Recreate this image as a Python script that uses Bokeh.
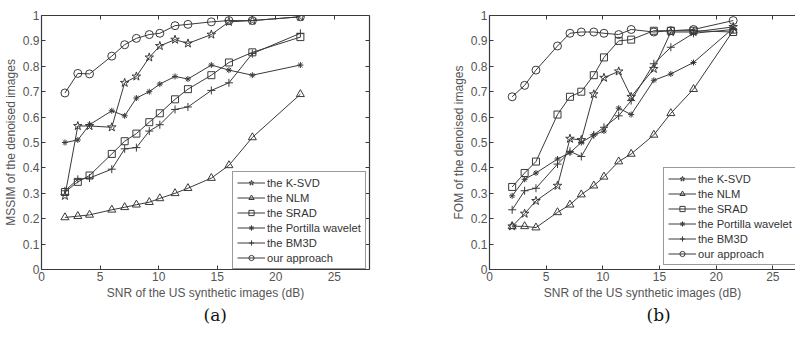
from bokeh.plotting import figure
from bokeh.layouts import row
from bokeh.models import (Range1d, FixedTicker, LinearAxis, Legend, LegendItem, Title,
                          CustomJSTickFormatter)
from bokeh.embed import file_html
from bokeh.resources import INLINE

# ---------------- data ----------------
snr_a = [2, 3.1, 4.1, 6, 7.1, 8.1, 9.2, 10.1, 11.4, 12.5, 14.5, 16, 18, 22.1]
snr_b = [2, 3.1, 4.1, 6, 7.1, 8.1, 9.2, 10.1, 11.4, 12.5, 14.5, 16, 18, 21.5]

names = ["the K-SVD", "the NLM", "the SRAD", "the Portilla wavelet", "the BM3D", "our approach"]

# (a) MSSIM
mssim_ksvd = [0.29, 0.565, 0.565, 0.56, 0.735, 0.76, 0.835, 0.88, 0.905, 0.89, 0.925, 0.975, 0.98, 0.995]
mssim_nlm = [0.205, 0.21, 0.215, 0.235, 0.245, 0.255, 0.265, 0.28, 0.30, 0.32, 0.36, 0.41, 0.52, 0.69]
mssim_srad = [0.305, 0.345, 0.37, 0.455, 0.505, 0.535, 0.58, 0.615, 0.67, 0.71, 0.765, 0.815, 0.855, 0.915]
mssim_portilla = [0.50, 0.51, 0.57, 0.625, 0.605, 0.675, 0.70, 0.73, 0.76, 0.75, 0.805, 0.785, 0.765, 0.805]
mssim_bm3d = [0.31, 0.355, 0.36, 0.395, 0.475, 0.48, 0.545, 0.57, 0.63, 0.64, 0.705, 0.735, 0.85, 0.93]
mssim_ours = [0.695, 0.772, 0.77, 0.84, 0.885, 0.91, 0.925, 0.93, 0.96, 0.965, 0.975, 0.98, 0.98, 0.995]

# (b) FOM
fom_ksvd = [0.17, 0.22, 0.27, 0.33, 0.515, 0.51, 0.69, 0.755, 0.78, 0.68, 0.79, 0.935, 0.935, 0.955]
fom_nlm = [0.17, 0.17, 0.165, 0.225, 0.255, 0.295, 0.33, 0.365, 0.425, 0.455, 0.53, 0.615, 0.71, 0.94]
fom_srad = [0.325, 0.38, 0.425, 0.61, 0.68, 0.70, 0.765, 0.835, 0.90, 0.905, 0.94, 0.94, 0.94, 0.935]
fom_portilla = [0.29, 0.355, 0.38, 0.435, 0.46, 0.50, 0.53, 0.545, 0.635, 0.61, 0.745, 0.77, 0.815, 0.95]
fom_bm3d = [0.235, 0.31, 0.32, 0.415, 0.465, 0.445, 0.53, 0.56, 0.605, 0.665, 0.81, 0.875, 0.93, 0.945]
fom_ours = [0.68, 0.725, 0.785, 0.88, 0.93, 0.935, 0.935, 0.93, 0.925, 0.945, 0.935, 0.94, 0.945, 0.98]

x_ticks = [0, 5, 10, 15, 20, 25]
y_ticks = [0, 0.1, 0.2, 0.3, 0.4, 0.5, 0.6, 0.7, 0.8, 0.9, 1]

markers = ["star", "triangle", "square", "asterisk", "cross", "circle"]
msizes = [9, 8, 7, 6, 8, 8]

FONT = "Liberation Sans"
LINE = "#3a3a3a"
TXT = "#555555"


def style_axis(ax, ticks, show_labels=True):
    ax.ticker = FixedTicker(ticks=ticks)
    ax.major_tick_in = 4
    ax.major_tick_out = 0
    ax.minor_tick_line_color = None
    ax.major_tick_line_color = LINE
    ax.axis_line_color = LINE
    ax.axis_line_width = 1.2
    ax.major_label_text_font = FONT
    ax.major_label_text_color = TXT
    if show_labels:
        ax.major_label_text_font_size = "12px"
        ax.major_label_standoff = 2
    else:
        ax.formatter = CustomJSTickFormatter(code="return '';")
        ax.major_label_text_font_size = "1px"
        ax.major_label_standoff = 0


def make(xs, series, ylabel, panel, width, left, right, top, x_end, legend_loc,
         with_right, title_offset):
    p = figure(width=width, height=324, output_backend="svg", toolbar_location=None,
               x_range=Range1d(0, x_end), y_range=Range1d(0, 1),
               min_border_left=left, min_border_right=right, min_border_top=top,
               min_border_bottom=0)
    p.outline_line_color = None
    p.grid.visible = False
    p.background_fill_color = "white"
    p.border_fill_color = "white"

    p.xaxis.axis_label = "SNR of the US synthetic images (dB)"
    p.yaxis.axis_label = ylabel
    style_axis(p.xaxis[0], x_ticks)
    style_axis(p.yaxis[0], y_ticks)
    for ax in p.xaxis + p.yaxis:
        ax.axis_label_text_font = FONT
        ax.axis_label_text_font_size = "12px"
        ax.axis_label_text_font_style = "normal"
        ax.axis_label_text_color = TXT
        ax.axis_label_standoff = 2
    p.yaxis.major_label_overrides = {0: "0", 1: "1"}

    top_ax = LinearAxis()
    style_axis(top_ax, x_ticks, show_labels=False)
    p.add_layout(top_ax, "above")
    if with_right:
        r_ax = LinearAxis()
        style_axis(r_ax, y_ticks, show_labels=False)
        p.add_layout(r_ax, "right")

    items = []
    for name, ys, mk, ms in zip(names, series, markers, msizes):
        ln = p.line(xs, ys, line_color=LINE, line_width=1)
        sc = p.scatter(xs, ys, marker=mk, size=ms, line_color=LINE, fill_color=None, line_width=1)
        items.append(LegendItem(label=name, renderers=[ln, sc]))

    leg = Legend(items=items, location=legend_loc)
    leg.label_text_font = FONT
    leg.label_text_font_size = "11.2px"
    leg.label_text_color = "#333333"
    leg.glyph_width = 28
    leg.glyph_height = 13
    leg.label_height = 13
    leg.label_standoff = 2
    leg.spacing = 2
    leg.padding = 4
    leg.margin = 0
    leg.border_line_color = "#333333"
    leg.border_line_width = 1
    leg.background_fill_color = "white"
    leg.background_fill_alpha = 1
    p.add_layout(leg)

    p.add_layout(Title(text=panel, align="left", offset=title_offset, text_font="DejaVu Serif",
                       text_font_size="17px", text_font_style="normal",
                       text_color="#111111", standoff=0), "below")
    return p


p1 = make(snr_a, [mssim_ksvd, mssim_nlm, mssim_srad, mssim_portilla, mssim_bm3d, mssim_ours],
          "MSSIM of the denoised images", "(a)", 392, 40, 23, 5, 28, (191, 0), True, 162)
p2 = make(snr_b, [fom_ksvd, fom_nlm, fom_srad, fom_portilla, fom_bm3d, fom_ours],
          "FOM of the denoised images", "(b)", 403, 97, 0, 15, 27.0, (174, 4), False, 157)

layout = row(p1, p2, spacing=0)
open("out.html", "w").write(file_html(layout, INLINE))
